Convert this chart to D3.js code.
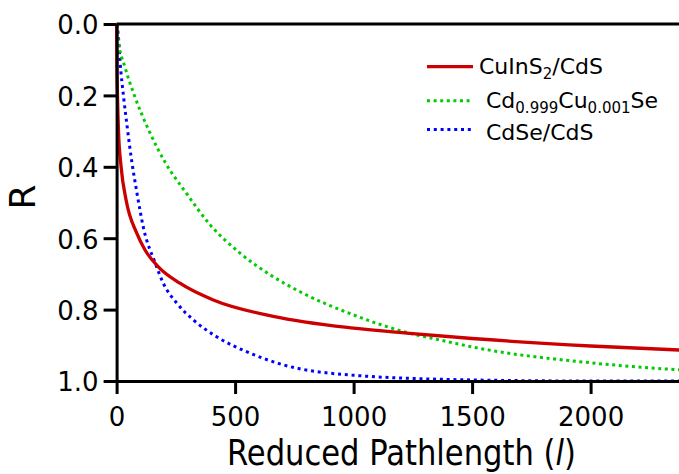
<!DOCTYPE html>
<html>
<head>
<meta charset="utf-8">
<script src="https://cdn.jsdelivr.net/npm/d3@7"></script>
<style>
  html, body { margin: 0; padding: 0; background: #fff; }
  svg { display: block; }
  text { font-family: "DejaVu Sans", sans-serif; fill: #000; }
</style>
</head>
<body>
<svg id="chart" width="679" height="474"></svg>
<script>
// ---- data ----
const seriesNames = ["CuInS2/CdS", "Cd0.999Cu0.001Se", "CdSe/CdS"];

const cuinsX = [0, 1, 4, 8, 19, 40, 85, 120, 176, 267, 408, 661, 1000, 1224, 1500, 2000, 2400];
const cuinsR = [0, 0.10, 0.21, 0.30, 0.40, 0.493, 0.586, 0.633, 0.68, 0.726, 0.773, 0.819, 0.852, 0.866, 0.881, 0.902, 0.914];

const cdcuX = [0, 7, 35, 75, 134, 207, 290, 394, 521, 661, 774, 1000, 1224, 1364, 1519, 2000, 2400];
const cdcuR = [0, 0.045, 0.12, 0.20, 0.295, 0.39, 0.47, 0.562, 0.642, 0.708, 0.75, 0.815, 0.864, 0.885, 0.907, 0.949, 0.97];

const cdseX = [0, 7, 14, 31, 45, 64, 85, 113, 162, 197, 254, 324, 422, 563, 689, 1000, 1500, 2000, 2400];
const cdseR = [0, 0.03, 0.10, 0.213, 0.29, 0.385, 0.47, 0.57, 0.668, 0.726, 0.782, 0.829, 0.876, 0.922, 0.952, 0.984, 0.997, 1.0, 1.0];

const xDomain = [0, 2400];
const yDomain = [0, 1];
const xTicks = [0, 500, 1000, 1500, 2000];
const yTicks = [0, 0.2, 0.4, 0.6, 0.8, 1.0];

// ---- layout ----
const svg = d3.select("#chart");
const mLeft = 116.6, mRight = 685.4, mTop = 24, mBottom = 381;

const x = d3.scaleLinear().domain(xDomain).range([mLeft, mRight]);
const y = d3.scaleLinear().domain(yDomain).range([mTop, mBottom]);

const series = [
  { name: seriesNames[0], xs: cuinsX, ys: cuinsR, color: "#cc0000", dash: null, width: 3.3 },
  { name: seriesNames[1], xs: cdcuX, ys: cdcuR, color: "#00cc00", dash: "3,3.6", width: 3 },
  { name: seriesNames[2], xs: cdseX, ys: cdseR, color: "#0000ff", dash: "3,3.8", width: 3 }
];

const line = d3.line()
  .x(d => x(d[0]))
  .y(d => y(d[1]))
  .curve(d3.curveMonotoneX);

// curves (drawn first so axes sit on top)
const curves = svg.append("g");
series.slice().reverse().forEach(s => {
  const pts = s.xs.map((v, i) => [v, s.ys[i]]);
  curves.append("path")
    .attr("d", line(pts))
    .attr("fill", "none")
    .attr("stroke", s.color)
    .attr("stroke-width", s.width)
    .attr("stroke-dasharray", s.dash);
});

// axes
const yAxis = d3.axisLeft(y)
  .tickValues(yTicks)
  .tickFormat(d3.format(".1f"))
  .tickSize(13)
  .tickSizeOuter(0)
  .tickPadding(5);
const gy = svg.append("g").attr("transform", `translate(${mLeft},0)`).call(yAxis);

const xAxis = d3.axisBottom(x)
  .tickValues(xTicks)
  .tickFormat(d3.format("d"))
  .tickSize(13)
  .tickSizeOuter(0)
  .tickPadding(14);
const gx = svg.append("g").attr("transform", `translate(0,${mBottom})`).call(xAxis);

// top frame line
svg.append("line")
  .attr("x1", x(xDomain[0])).attr("x2", x(xDomain[1]))
  .attr("y1", y(yDomain[0])).attr("y2", y(yDomain[0]))
  .attr("stroke", "#000").attr("stroke-width", 3);

[gx, gy].forEach(g => {
  g.selectAll(".domain").attr("stroke", "#000").attr("stroke-width", 3);
  g.selectAll(".tick line").attr("stroke", "#000").attr("stroke-width", 3);
  g.selectAll(".tick text")
    .attr("font-family", "DejaVu Sans, sans-serif")
    .attr("font-size", 26)
    .attr("fill", "#000");
});
gy.selectAll(".tick text").attr("dy", "0.38em");

// axis titles
svg.append("text")
  .attr("transform", `translate(35,197) rotate(-90)`)
  .attr("text-anchor", "middle")
  .attr("font-size", 36)
  .text("R");

const xTitle = svg.append("text")
  .attr("x", 227)
  .attr("y", 465)
  .attr("font-size", 36);
xTitle.append("tspan").text("Reduced Pathlength (");
xTitle.append("tspan").attr("font-style", "italic").text("l");
xTitle.append("tspan").text(")");
const tLen = xTitle.node().getComputedTextLength();
const sx = 349 / tLen;
xTitle.attr("transform", `translate(227,0) scale(${sx},1) translate(-227,0)`);

// legend
const legend = svg.append("g");
const legendRows = [
  { s: series[0], ly: 66.7, tx: 479, ty: 74.3, parts: [["CuInS", false], ["2", true], ["/CdS", false]] },
  { s: series[1], ly: 100.7, tx: 486, ty: 108.3, parts: [["Cd", false], ["0.999", true], ["Cu", false], ["0.001", true], ["Se", false]] },
  { s: series[2], ly: 129.5, tx: 486, ty: 139.5, parts: [["CdSe/CdS", false]] }
];
legendRows.forEach(r => {
  legend.append("line")
    .attr("x1", 427).attr("x2", 473)
    .attr("y1", r.ly).attr("y2", r.ly)
    .attr("stroke", r.s.color)
    .attr("stroke-width", r.s.width)
    .attr("stroke-dasharray", r.s.dash);
  const t = legend.append("text")
    .attr("x", r.tx).attr("y", r.ty)
    .attr("font-size", 22);
  let shifted = false;
  r.parts.forEach(([txt, sub]) => {
    const ts = t.append("tspan").text(txt);
    if (sub && !shifted) { ts.attr("font-size", 15).attr("dy", 4.6); shifted = true; }
    else if (sub && shifted) { ts.attr("font-size", 15); }
    else if (!sub && shifted) { ts.attr("dy", -4.6); shifted = false; }
  });
});
</script>
</body>
</html>
